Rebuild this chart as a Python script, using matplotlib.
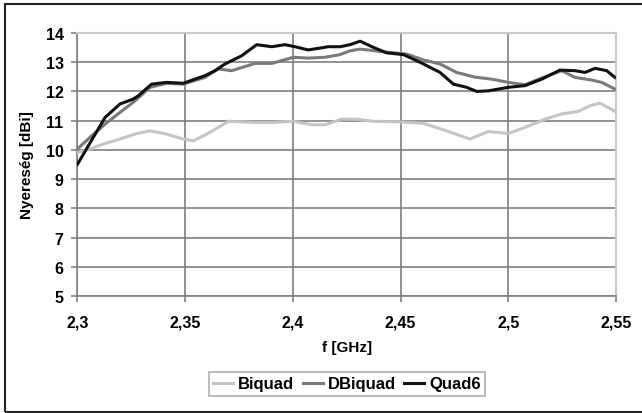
import numpy as np
import matplotlib
matplotlib.use('Agg')
import matplotlib.pyplot as plt
from matplotlib.patches import Rectangle

plt.rcParams['font.family'] = ['Liberation Sans', 'DejaVu Sans']

# Quad6 (black)
f_quad6 = [2.300, 2.3128, 2.3197, 2.3259, 2.3282, 2.3344, 2.3414, 2.3491, 2.3592,
           2.3638, 2.3685, 2.3762, 2.3832, 2.3902, 2.3963, 2.4010, 2.4071, 2.4164,
           2.4219, 2.4265, 2.4312, 2.4373, 2.4435, 2.4513, 2.4590, 2.4683, 2.4745,
           2.4807, 2.4853, 2.4907, 2.5000, 2.5078, 2.5155, 2.5240, 2.5310, 2.5356,
           2.5403, 2.5457, 2.5495]
g_quad6 = [9.51, 11.11, 11.57, 11.74, 11.85, 12.25, 12.31, 12.28, 12.54,
           12.71, 12.94, 13.22, 13.60, 13.53, 13.60, 13.53, 13.42, 13.53,
           13.53, 13.60, 13.72, 13.51, 13.32, 13.26, 13.00, 12.65, 12.25,
           12.14, 12.00, 12.02, 12.14, 12.20, 12.42, 12.73, 12.71, 12.65,
           12.79, 12.71, 12.48]

# DBiquad (dark grey)
f_dbiquad = [2.300, 2.3058, 2.3128, 2.3197, 2.3259, 2.3337, 2.3414, 2.3491, 2.3592,
             2.3654, 2.3716, 2.3824, 2.3902, 2.4002, 2.4071, 2.4149, 2.4219, 2.4265,
             2.4312, 2.4404, 2.4528, 2.4605, 2.4683, 2.4760, 2.4845, 2.4923, 2.5000,
             2.5078, 2.5155, 2.5248, 2.5310, 2.5387, 2.5434, 2.5495]
g_dbiquad = [10.03, 10.43, 10.88, 11.28, 11.63, 12.14, 12.28, 12.25, 12.48,
             12.77, 12.71, 12.96, 12.96, 13.17, 13.14, 13.17, 13.26, 13.39,
             13.45, 13.37, 13.28, 13.08, 12.94, 12.65, 12.49, 12.42, 12.31,
             12.23, 12.46, 12.71, 12.48, 12.39, 12.31, 12.08]

# Biquad (light grey)
f_biquad = [2.300, 2.3058, 2.3120, 2.3197, 2.3275, 2.3337, 2.3414, 2.3491, 2.3538,
            2.3600, 2.3654, 2.3700, 2.3824, 2.3902, 2.4002, 2.4087, 2.4149, 2.4227,
            2.4296, 2.4373, 2.4497, 2.4605, 2.4714, 2.4822, 2.4907, 2.5000, 2.5078,
            2.5170, 2.5248, 2.5325, 2.5379, 2.5426, 2.5495]
g_biquad = [9.91, 10.03, 10.20, 10.37, 10.56, 10.65, 10.54, 10.37, 10.31,
            10.54, 10.77, 10.98, 10.94, 10.94, 10.98, 10.86, 10.86, 11.05,
            11.05, 10.98, 10.96, 10.91, 10.65, 10.37, 10.63, 10.56, 10.77,
            11.05, 11.23, 11.32, 11.51, 11.60, 11.32]

xticks = [2.3, 2.35, 2.4, 2.45, 2.5, 2.55]
xlabels = ['2,3', '2,35', '2,4', '2,45', '2,5', '2,55']
yticks = list(range(5, 15))

fig = plt.figure(figsize=(6.42, 4.14), dpi=100)
fig.set_facecolor('w')
ax = fig.add_axes([0.1207, 0.2826, 0.9595 - 0.1207, 0.9179 - 0.2826])

ax.plot(f_biquad, g_biquad, color='#c4c4c4', lw=2.2, label='Biquad', zorder=3)
ax.plot(f_dbiquad, g_dbiquad, color='#7a7a7a', lw=2.2, label='DBiquad', zorder=4)
ax.plot(f_quad6, g_quad6, color='#111111', lw=2.2, label='Quad6', zorder=5)

ax.set_xlim(2.3, 2.55)
ax.set_ylim(5, 14)
ax.set_xticks(xticks)
ax.set_xticklabels(xlabels)
ax.set_yticks(yticks)
ax.grid(True, color='#7f7f7f', lw=1.2)
ax.set_axisbelow(True)
for s in ['top', 'right']:
    ax.spines[s].set_color('#c8c8c8')
    ax.spines[s].set_linewidth(1.5)
for s in ['left', 'bottom']:
    ax.spines[s].set_color('#808080')
    ax.spines[s].set_linewidth(1.2)
ax.tick_params(direction='out', length=4, width=1.2, color='#808080',
               labelsize=11.5)
ax.tick_params(axis='y', pad=6)
ax.tick_params(axis='x', pad=9)
for t in ax.get_xticklabels() + ax.get_yticklabels():
    t.set_fontweight('bold')

ax.set_xlabel('f [GHz]', fontsize=11, fontweight='bold', labelpad=8)
ax.set_ylabel('Nyereség [dBi]', fontsize=11, fontweight='bold', labelpad=8)

leg = fig.legend(loc='center', bbox_to_anchor=(347 / 642, 1 - 385 / 414), ncol=3,
                 frameon=True, fancybox=False, handlelength=1.2, handletextpad=0.3,
                 columnspacing=0.5, borderpad=0.25, prop={'weight': 'bold', 'size': 12})
leg.get_frame().set_edgecolor('#9a9a9a')
leg.get_frame().set_linewidth(1.2)

# outer frame (right edge is cut off in the original)
fig.patches.append(Rectangle((5 / 642, 1 / 414), 1.0, 408 / 414, transform=fig.transFigure,
                             fill=False, edgecolor='#222222', lw=1.5))

fig.savefig('out.png', dpi=100)
